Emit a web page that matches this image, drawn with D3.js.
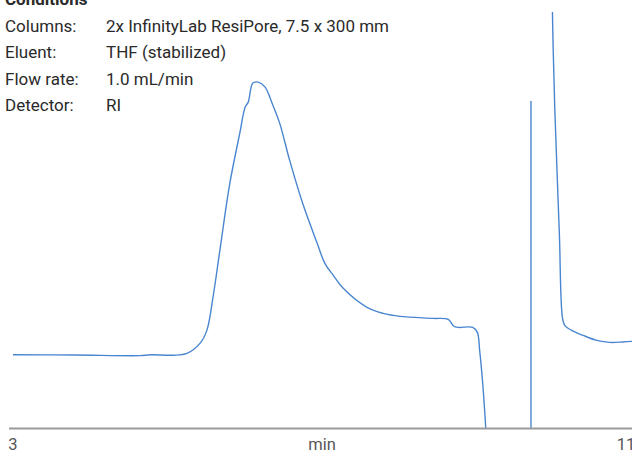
<!DOCTYPE html>
<html>
<head>
<meta charset="utf-8">
<script src="https://cdn.jsdelivr.net/npm/d3@7"></script>
<style>
  html, body { margin: 0; padding: 0; background: #fff; }
  svg { display: block; }
  text { font-family: Roboto, "Liberation Sans", Arial, sans-serif; }
</style>
</head>
<body>
<svg id="chart" width="632" height="453"></svg>
<script>
// ---- data ----
const conditionLabels = ["Columns:", "Eluent:", "Flow rate:", "Detector:"];
const conditionValues = ["2x InfinityLab ResiPore, 7.5 x 300 mm", "THF (stabilized)", "1.0 mL/min", "RI"];
const conditionsTitle = "Conditions";
const xTickValues = [3, 11];
const xAxisTitle = "min";

// retention time (min) and RI signal (arbitrary units); null = trace off-scale / gap
const time = [
  3.00, 3.80, 4.66, 4.79, 5.09, 5.27, 5.44, 5.53, 5.61, 5.70, 5.83, 5.96, 6.03, 6.07, 6.13, 6.20,
  6.29, 6.38, 6.48, 6.61, 6.78, 6.97, 7.07, 7.18, 7.31, 7.62, 7.83, 8.05, 8.48, 8.68, 8.75, 8.81,
  9.00, 9.06, 9.09, 9.13, 9.17, 9.22,
  9.50,
  9.76, 9.76,
  9.90,
  10.04, 10.05, 10.07, 10.13, 10.17, 10.20, 10.29, 10.44, 10.62, 10.79, 10.96, 11.08
];
const signal = [
  18.4, 18.35, 18.2, 18.4, 18.3, 18.75, 21.25, 24.5, 32.75, 44.5, 61.25, 73.75, 80.25, 81.5, 86.25, 86.5,
  85.25, 81.25, 76.25, 67, 56.25, 46.25, 41.25, 38.25, 35, 30.25, 28.75, 28, 27.5, 27.25, 25.6, 25.25,
  25.25, 24, 19.5, 11.25, 0, -20,
  null,
  -20, 81.75,
  null,
  104, 94.5, 80.25, 48.75, 27.75, 25.75, 24.5, 23.25, 22, 21.5, 21.6, 21.75
];

// ---- layout ----
const W = 632, H = 453;
const svg = d3.select("#chart");

const x = d3.scaleLinear().domain([3, 11]).range([13, 626]);
const y = d3.scaleLinear().domain([0, 104]).range([428.5, 12]);

const pts = time.map((t, i) => ({ t, v: signal[i] }));

svg.append("defs").append("clipPath").attr("id", "plotclip")
  .append("rect").attr("x", 0).attr("y", 0).attr("width", W).attr("height", y(0));

const line = d3.line()
  .defined(d => d.v !== null)
  .x(d => x(d.t))
  .y(d => y(d.v))
  .curve(d3.curveCatmullRom.alpha(0.5));

svg.append("path")
  .datum(pts)
  .attr("clip-path", "url(#plotclip)")
  .attr("fill", "none")
  .attr("stroke", "#4a86d0")
  .attr("stroke-width", 1.4)
  .attr("stroke-linejoin", "round")
  .attr("d", line);

// x axis
const axisG = svg.append("g").attr("transform", `translate(0,${y(0)})`);
axisG.append("line")
  .attr("x1", 9).attr("x2", W)
  .attr("y1", 0).attr("y2", 0)
  .attr("stroke", "#9a9a9a").attr("stroke-width", 2);

axisG.selectAll("text.tick")
  .data(xTickValues)
  .join("text")
  .attr("class", "tick")
  .attr("x", d => x(d))
  .attr("y", 21.5)
  .attr("text-anchor", "middle")
  .attr("font-size", 16.5)
  .attr("fill", "#555")
  .text(d => d);

axisG.append("text")
  .attr("x", 322)
  .attr("y", 21.5)
  .attr("text-anchor", "middle")
  .attr("font-size", 16.5)
  .attr("fill", "#555")
  .text(xAxisTitle);

// conditions block
svg.append("text")
  .attr("x", 5).attr("y", 5)
  .attr("font-size", 17).attr("font-weight", "bold")
  .attr("fill", "#2a2a2a")
  .text(conditionsTitle);

const rows = svg.append("g");
conditionLabels.forEach((lab, i) => {
  rows.append("text")
    .attr("x", 5).attr("y", 32 + i * 26.3)
    .attr("font-size", 17).attr("fill", "#2a2a2a")
    .text(lab);
  rows.append("text")
    .attr("x", 106).attr("y", 32 + i * 26.3)
    .attr("font-size", 17).attr("fill", "#2a2a2a")
    .text(conditionValues[i]);
});
</script>
</body>
</html>
